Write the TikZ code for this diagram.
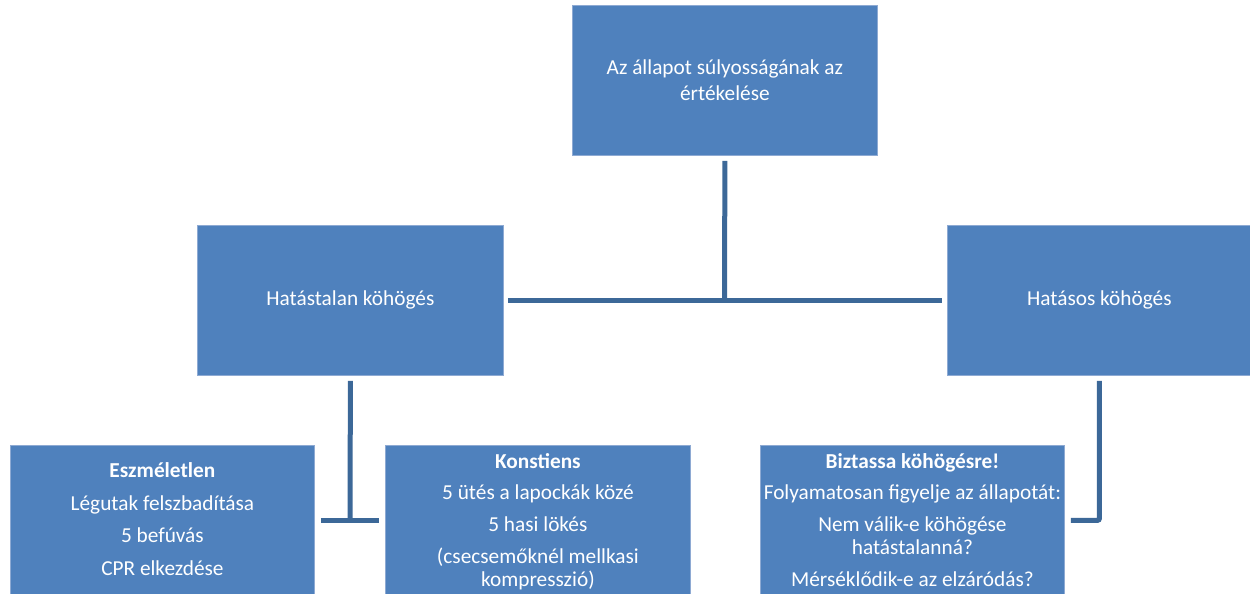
\documentclass[tikz,border=0pt]{standalone}
\usepackage{fontspec}
\setmainfont{Carlito}
\usetikzlibrary{calc}
\definecolor{boxblue}{HTML}{4F81BD}
\definecolor{boxedge}{HTML}{8EAAD3}
\definecolor{lineblue}{HTML}{3C6898}
\begin{document}
\begin{tikzpicture}[x=1pt,y=-1pt,
  box/.style={fill=boxblue,draw=boxedge,line width=0.8pt,inner sep=0pt,
    text=white,font=\fontsize{21.3}{26}\selectfont,align=center,anchor=north west},
  txt/.style={text=white,font=\fontsize{21.3}{23}\selectfont,align=center,inner sep=0pt,anchor=north},
  conn/.style={draw=lineblue,line width=5pt}]
\useasboundingbox (0,0) rectangle (1250,594);
% boxes
\node[box,minimum width=305pt,minimum height=150pt] (top) at (572,5) {Az állapot súlyosságának az\\értékelése};
\node[box,minimum width=306pt,minimum height=150pt] (hl) at (197,225) {Hatástalan köhögés};
\node[box,minimum width=304pt,minimum height=150pt] (hr) at (947,225) {Hatásos köhögés};
\node[box,minimum width=304pt,minimum height=150pt] (b1) at (10,445) {};
\node[box,minimum width=305pt,minimum height=150pt] (b2) at (385,445) {};
\node[box,minimum width=304pt,minimum height=150pt] (b3) at (760,445) {};
% texts of bottom boxes
\node[txt] (t1) at ($(b1.north)+(0,17)$) {\textbf{Eszméletlen}\\[10pt]Légutak felszbadítása\\[9.5pt]5 befúvás\\[10pt]CPR elkezdése};
\node[txt] (t2) at ($(b2.north)+(0,8)$) {\textbf{Konstiens}\\[8.5pt]5 ütés a lapockák közé\\[9pt]5 hasi lökés\\[8.5pt](csecsemőknél mellkasi\\kompresszió)};
\node[txt] (t3) at ($(b3.north)+(0,8)$) {\textbf{Biztassa köhögésre!}\\[8.5pt]Folyamatosan figyelje az állapotát:\\[9pt]Nem válik-e köhögése\\hatástalanná?\\[9pt]Mérséklődik-e az elzáródás?};
% connectors
\coordinate (j1) at (724.5,300);
\coordinate (j2) at (350,520);
\draw[conn] ([yshift=-5pt]top.south) -- (j1);
\draw[conn] ([xshift=4pt]hl.east) -- ([xshift=-5pt]hr.west);
\draw[conn] ([yshift=-5pt]hl.south) -- (j2);
\draw[conn] ([xshift=6pt]b1.east |- j2) -- ([xshift=-6pt]b2.west |- j2);
\draw[conn,rounded corners=2pt] ([yshift=-5pt]hr.south) |- ([xshift=6pt]b3.east);
\end{tikzpicture}
\end{document}
